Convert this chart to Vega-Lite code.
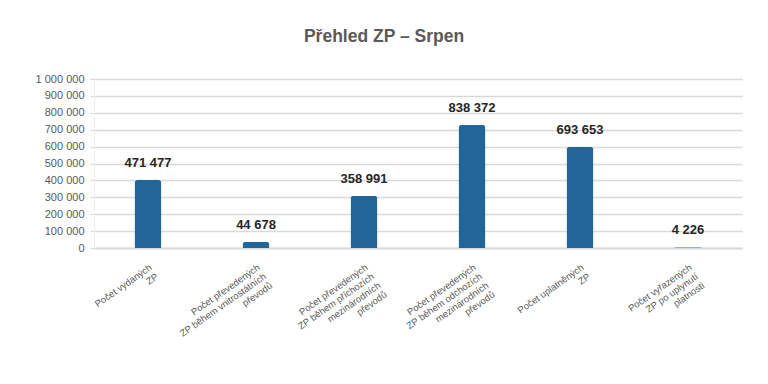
{
  "$schema": "https://vega.github.io/schema/vega-lite/v6.json",
  "width": 648,
  "height": 169,
  "autosize": {"type": "none"},
  "padding": {"left": 94, "top": 79, "right": 26, "bottom": 136},
  "background": "white",
  "config": {
    "locale": {"number": {"decimal": ",", "thousands": " ", "grouping": [3], "currency": ["", " Kč"]}},
    "view": {"stroke": null},
    "font": "Liberation Sans"
  },
  "title": {
    "text": "Přehled ZP – Srpen",
    "font": "Liberation Sans",
    "fontSize": 17.5,
    "fontWeight": "bold",
    "color": "#595959",
    "anchor": "middle",
    "dx": -34,
    "offset": 28
  },
  "data": {
    "values": [
      {"kategorie": "Počet vydaných|ZP", "vyska": 402000, "hodnota": 471477},
      {"kategorie": "Počet převedených|ZP během vnitrostátních|převodů", "vyska": 37000, "hodnota": 44678},
      {"kategorie": "Počet převedených|ZP během příchozích|mezinárodních|převodů", "vyska": 309000, "hodnota": 358991},
      {"kategorie": "Počet převedených|ZP během odchozích|mezinárodních|převodů", "vyska": 728000, "hodnota": 838372},
      {"kategorie": "Počet uplatněných|ZP", "vyska": 599000, "hodnota": 693653},
      {"kategorie": "Počet vyřazených|ZP po uplynutí|platnosti", "vyska": 4000, "hodnota": 4226}
    ]
  },
  "encoding": {
    "x": {
      "field": "kategorie",
      "type": "nominal",
      "sort": null,
      "title": null,
      "scale": {"paddingInner": 0.75, "paddingOuter": 0.375},
      "axis": {
        "labelExpr": "split(datum.label, '|')",
        "labelAngle": -35,
        "labelAlign": "right",
        "labelBaseline": "top",
        "labelFontSize": 9.5,
        "labelColor": "#595959",
        "labelPadding": 14,
        "ticks": false,
        "domainColor": "#d9d9d9",
        "domainWidth": 2,
        "labelLineHeight": 11
      }
    },
    "y": {
      "field": "vyska",
      "type": "quantitative",
      "title": null,
      "scale": {"domain": [0, 1000000], "nice": false},
      "axis": {
        "values": [0, 100000, 200000, 300000, 400000, 500000, 600000, 700000, 800000, 900000, 1000000],
        "format": ",d",
        "labelFontSize": 11,
        "labelColor": "#595959",
        "labelPadding": 6,
        "tickSize": 4,
        "tickColor": "#d9d9d9",
        "gridColor": "#d9d9d9",
        "gridWidth": 1.5,
        "domainColor": "#eeeeee",
        "domainWidth": 1
      }
    }
  },
  "layer": [
    {
      "mark": {"type": "bar", "color": "#226699", "cornerRadiusTopLeft": 3, "cornerRadiusTopRight": 3}
    },
    {
      "mark": {"type": "text", "baseline": "bottom", "dy": -10, "fontSize": 13, "fontWeight": "bold", "color": "#262626"},
      "encoding": {
        "text": {"field": "hodnota", "type": "quantitative", "format": ",d"}
      }
    }
  ]
}
